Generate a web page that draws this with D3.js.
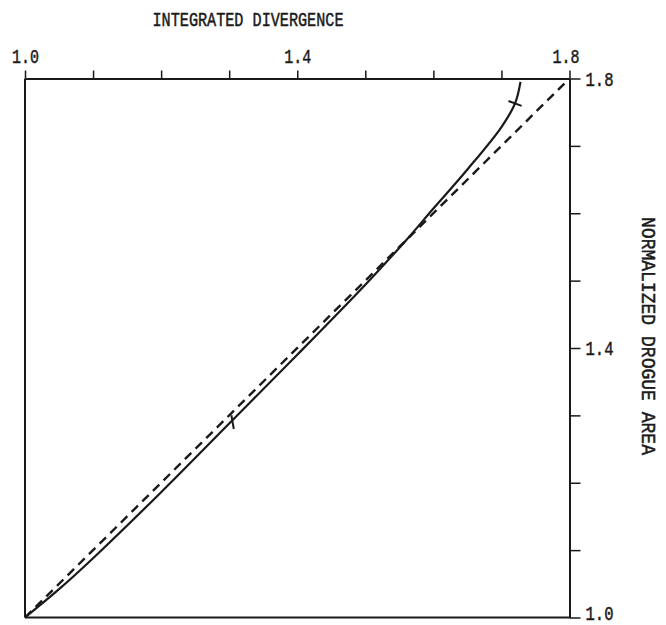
<!DOCTYPE html>
<html>
<head>
<meta charset="utf-8">
<script src="https://cdn.jsdelivr.net/npm/d3@7"></script>
<style>
  html, body { margin: 0; padding: 0; background: #fff; }
  svg { display: block; }
  text { font-family: "Liberation Mono", "DejaVu Sans Mono", monospace; fill: #1a1a1a; }
</style>
</head>
<body>
<svg id="chart" width="666" height="625"></svg>
<script>
// Integrated divergence (x) against normalized drogue area (y)
const xDomain = [1.0, 1.8];
const yDomain = [1.0, 1.8];
const xTickValues = [1.0, 1.1, 1.2, 1.3, 1.4, 1.5, 1.6, 1.7, 1.8];
const xTickLabels = ["1.0", "1.4", "1.8"];
const yTickValues = [1.0, 1.1, 1.2, 1.3, 1.4, 1.5, 1.6, 1.7, 1.8];
const yTickLabels = ["1.0", "1.4", "1.8"];

// measured curve
const curveX = [1.0, 1.05, 1.1, 1.2, 1.3, 1.4, 1.5, 1.56, 1.6, 1.65, 1.7, 1.72, 1.728];
const curveY = [1.0, 1.042, 1.088, 1.186, 1.288, 1.39, 1.494, 1.56, 1.607, 1.665, 1.728, 1.763, 1.795];

// marked points on the curve
const markX = [1.305, 1.72];
const markY = [1.29, 1.763];

// reference line of equality
const refX = [1.0, 1.8];
const refY = [1.0, 1.8];

const margin = { left: 25, right: 96.5, top: 78.5, bottom: 7.5 };
const W = 666, H = 625;
const svg = d3.select("#chart");

const x = d3.scaleLinear().domain(xDomain).range([margin.left, W - margin.right]);
const y = d3.scaleLinear().domain(yDomain).range([H - margin.bottom, margin.top]);

const ink = "#1a1a1a";

// typewriter-style lettering: tall, narrow and a little heavy
function typeface(sel, size) {
  sel.style("font-size", size + "px")
    .style("font-family", "'Liberation Mono', monospace")
    .attr("fill", ink)
    .attr("stroke", ink)
    .attr("stroke-width", 0.5);
}

// frame: left and bottom edges
svg.append("line")
  .attr("x1", x(xDomain[0])).attr("x2", x(xDomain[0]))
  .attr("y1", y(yDomain[0])).attr("y2", y(yDomain[1]))
  .attr("stroke", ink).attr("stroke-width", 2);
svg.append("line")
  .attr("x1", x(xDomain[0])).attr("x2", x(xDomain[1]))
  .attr("y1", y(yDomain[0])).attr("y2", y(yDomain[0]))
  .attr("stroke", ink).attr("stroke-width", 2);

// top axis
const fmt = d3.format(".1f");
const xAxis = d3.axisTop(x)
  .tickValues(xTickValues)
  .tickSize(8)
  .tickSizeOuter(0)
  .tickFormat(d => xTickLabels.includes(fmt(d)) ? fmt(d) : "");
const gx = svg.append("g")
  .attr("transform", `translate(0,${y(yDomain[1])})`)
  .call(xAxis);
gx.select(".domain").attr("stroke", ink).attr("stroke-width", 2);
gx.selectAll(".tick line").attr("stroke", ink).attr("stroke-width", 1.5);
gx.selectAll(".tick text")
  .attr("y", -16)
  .attr("textLength", d => xTickLabels.includes(fmt(d)) ? 27 : null)
  .attr("lengthAdjust", "spacingAndGlyphs")
  .call(typeface, 21);
// the last label sits a touch left of its tick
gx.selectAll(".tick text").filter(d => d === xDomain[1]).attr("x", -4);

// right axis
const yAxis = d3.axisRight(y)
  .tickValues(yTickValues)
  .tickSize(11)
  .tickSizeOuter(0)
  .tickFormat(d => yTickLabels.includes(fmt(d)) ? fmt(d) : "");
const gy = svg.append("g")
  .attr("transform", `translate(${x(xDomain[1])},0)`)
  .call(yAxis);
gy.select(".domain").attr("stroke", ink).attr("stroke-width", 2);
gy.selectAll(".tick line").attr("stroke", ink).attr("stroke-width", 1.5);
gy.selectAll(".tick text")
  .attr("x", 16)
  .attr("textLength", d => yTickLabels.includes(fmt(d)) ? 28 : null)
  .attr("lengthAdjust", "spacingAndGlyphs")
  .call(typeface, 21);
gy.selectAll(".tick text").filter(d => d === yDomain[0]).attr("dy", "0.08em");

// axis titles
svg.append("text")
  .attr("x", 248).attr("y", 21)
  .attr("text-anchor", "middle")
  .attr("dominant-baseline", "middle")
  .attr("textLength", 191)
  .attr("lengthAdjust", "spacingAndGlyphs")
  .text("INTEGRATED DIVERGENCE")
  .call(typeface, 20);

svg.append("text")
  .attr("transform", "translate(648,336) rotate(90)")
  .attr("text-anchor", "middle")
  .attr("dominant-baseline", "middle")
  .attr("textLength", 238)
  .attr("lengthAdjust", "spacingAndGlyphs")
  .text("NORMALIZED DROGUE AREA")
  .call(typeface, 21);

// dashed equality line
const line = d3.line().x(d => x(d[0])).y(d => y(d[1]));
svg.append("path")
  .datum(d3.zip(refX, refY))
  .attr("d", line)
  .attr("fill", "none")
  .attr("stroke", ink)
  .attr("stroke-width", 2.4)
  .attr("stroke-dasharray", "9,6");

// measured curve
const smooth = d3.line().x(d => x(d[0])).y(d => y(d[1])).curve(d3.curveCatmullRom.alpha(0.5));
svg.append("path")
  .datum(d3.zip(curveX, curveY))
  .attr("d", smooth)
  .attr("fill", "none")
  .attr("stroke", ink)
  .attr("stroke-width", 2.2);

// short cross-strokes at the marked points
const markAngles = [80, 20];
d3.zip(markX, markY, markAngles).forEach(([mx, my, a]) => {
  const cx = x(mx), cy = y(my), r = 7;
  const rad = a * Math.PI / 180;
  svg.append("line")
    .attr("x1", cx - r * Math.cos(rad)).attr("y1", cy - r * Math.sin(rad))
    .attr("x2", cx + r * Math.cos(rad)).attr("y2", cy + r * Math.sin(rad))
    .attr("stroke", ink).attr("stroke-width", 2);
});
</script>
</body>
</html>
